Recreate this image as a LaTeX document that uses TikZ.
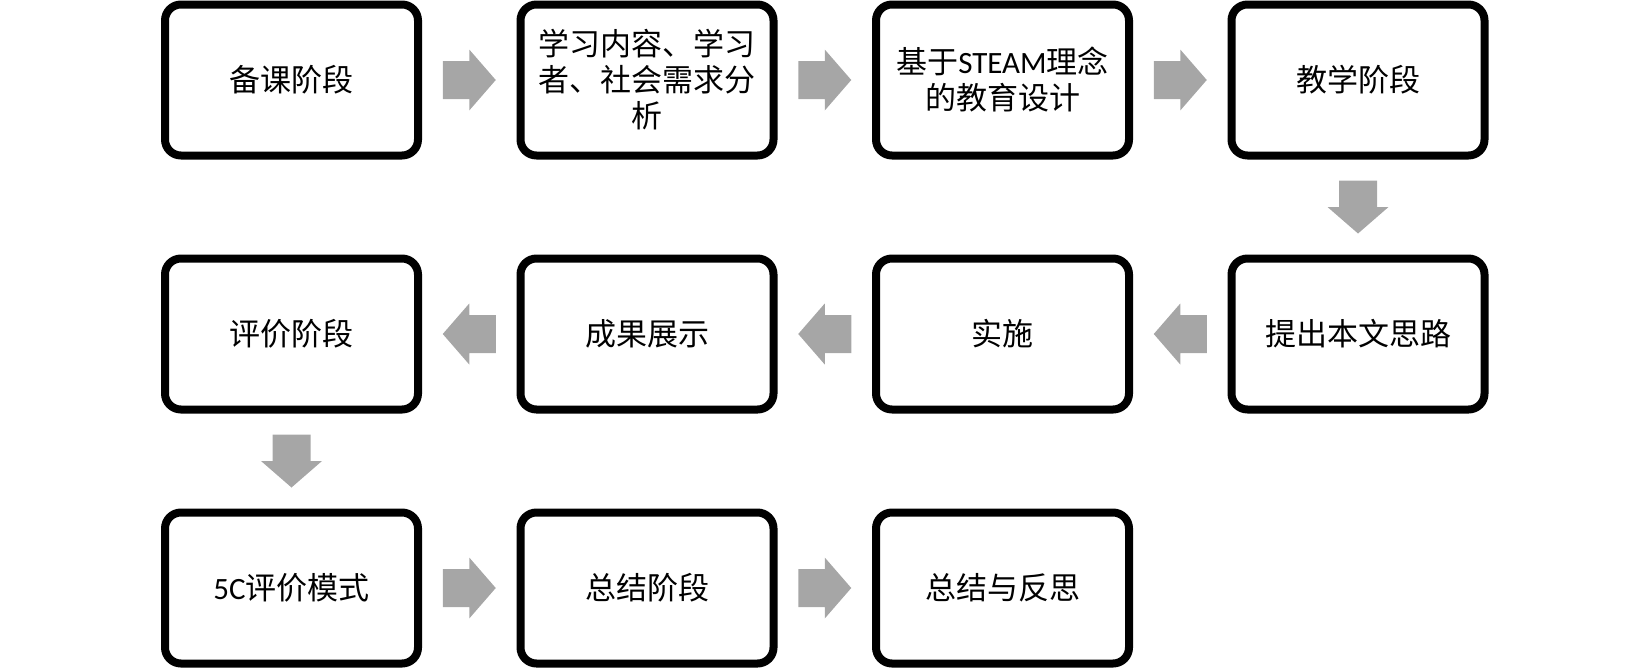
\documentclass[tikz,border=0pt]{standalone}
\usepackage{fontspec}
\setmainfont{Carlito}
\newfontfamily\cjk{Noto Sans CJK SC}
\newfontfamily\lat{Carlito}
\usetikzlibrary{calc}
\definecolor{arrowgray}{RGB}{166,166,166}
\tikzset{
  stagebox/.style={draw=black, line width=4pt, rounded corners=8pt, fill=white,
    minimum width=126.5pt, minimum height=75.5pt, align=center, inner sep=0pt,
    font=\fontsize{15.5pt}{18pt}\selectfont\cjk},
  blockarrow/.style={fill=arrowgray, draw=none}
}
\newcommand{\blockarr}[3]{%
  \fill[blockarrow, shift={($(#1)!0.5!(#2)$)}, rotate=#3]
    (-26.5,-19) -- (0,-19) -- (0,-30.5) -- (26.5,0) -- (0,30.5) -- (0,19) -- (-26.5,19) -- cycle;}
\begin{document}
\begin{tikzpicture}[x=0.5pt, y=-0.5pt]
\useasboundingbox (0,0) rectangle (1648,669);
% row 1
\node[stagebox] (b1) at (291.5,80) {备课阶段};
\node[stagebox] (b2) at (647,80) {学习内容、学习\\者、社会需求分\\析};
\node[stagebox] (b3) at (1002.5,80) {基于{\lat STEAM}理念\\的教育设计};
\node[stagebox] (b4) at (1358,80) {教学阶段};
% row 2
\node[stagebox] (b5) at (1358,334) {提出本文思路};
\node[stagebox] (b6) at (1002.5,334) {实施};
\node[stagebox] (b7) at (647,334) {成果展示};
\node[stagebox] (b8) at (291.5,334) {评价阶段};
% row 3
\node[stagebox] (b9) at (291.5,588) {{\lat 5C}评价模式};
\node[stagebox] (b10) at (647,588) {总结阶段};
\node[stagebox] (b11) at (1002.5,588) {总结与反思};
% arrows
\blockarr{b1.east}{b2.west}{0}
\blockarr{b2.east}{b3.west}{0}
\blockarr{b3.east}{b4.west}{0}
\blockarr{b4.south}{b5.north}{-90}
\blockarr{b5.west}{b6.east}{180}
\blockarr{b6.west}{b7.east}{180}
\blockarr{b7.west}{b8.east}{180}
\blockarr{b8.south}{b9.north}{-90}
\blockarr{b9.east}{b10.west}{0}
\blockarr{b10.east}{b11.west}{0}
\end{tikzpicture}
\end{document}
